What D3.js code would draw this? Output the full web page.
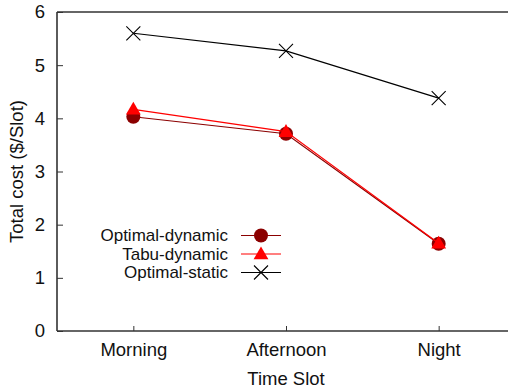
<!DOCTYPE html>
<html>
<head>
<meta charset="utf-8">
<script src="https://cdn.jsdelivr.net/npm/d3@7"></script>
<style>
    body { margin: 0; background: #fff; }
    svg text { font-family: "Liberation Sans", Arial, sans-serif; fill: #111; }
</style>
</head>
<body>
<div id="chart"></div>
<script>
// categories and series
var slots = ['Morning', 'Afternoon', 'Night'];
var optimalDynamic = [4.03, 3.71, 1.64];
var tabuDynamic = [4.17, 3.75, 1.65];
var optimalStatic = [5.60, 5.27, 4.38];
var yTicks = [0, 1, 2, 3, 4, 5, 6];

var width = 508, height = 392;
var margin = {left: 57, top: 12, right: -7, bottom: 61};
var fontSize = '18.5px';

var svg = d3.select('#chart').append('svg')
    .attr('width', width)
    .attr('height', height);

var x = d3.scalePoint()
    .domain(slots)
    .range([margin.left, width - margin.right])
    .padding(0.5);

var y = d3.scaleLinear()
    .domain([0, 6])
    .range([height - margin.bottom, margin.top]);

// y axis, ticks pointing inward
var yAxis = svg.append('g')
    .attr('transform', 'translate(' + margin.left + ',0)')
    .call(d3.axisLeft(y).tickValues(yTicks).tickFormat(d3.format('d')).tickSize(-6).tickPadding(12));
yAxis.select('.domain').remove();
yAxis.selectAll('line').style('stroke', '#333');
yAxis.selectAll('text').style('font-size', fontSize);

// x axis
var xAxis = svg.append('g')
    .attr('transform', 'translate(0,' + (height - margin.bottom) + ')')
    .call(d3.axisBottom(x).tickSize(-5).tickPadding(12));
xAxis.select('.domain').remove();
xAxis.selectAll('line').style('stroke', '#333');
xAxis.selectAll('text').style('font-size', fontSize);

// frame (no right side visible)
var frame = svg.append('g')
    .style('stroke', '#333')
    .style('stroke-width', 1.6)
    .style('fill', 'none');
frame.append('line')
    .attr('x1', margin.left).attr('x2', width)
    .attr('y1', y(6)).attr('y2', y(6));
frame.append('line')
    .attr('x1', margin.left).attr('x2', width)
    .attr('y1', y(0)).attr('y2', y(0));
frame.append('line')
    .attr('x1', margin.left).attr('x2', margin.left)
    .attr('y1', y(6)).attr('y2', y(0));

// axis titles
svg.append('text')
    .attr('x', x('Afternoon'))
    .attr('y', 385)
    .attr('text-anchor', 'middle')
    .style('font-size', fontSize)
    .text('Time Slot');
svg.append('text')
    .attr('transform', 'translate(23,' + y(3) + ') rotate(-90)')
    .attr('text-anchor', 'middle')
    .style('font-size', fontSize)
    .text('Total cost ($/Slot)');

var series = [
    {name: 'Optimal-dynamic', values: optimalDynamic, color: '#8b0000', mark: 'circle'},
    {name: 'Tabu-dynamic', values: tabuDynamic, color: '#ff0000', mark: 'triangle'},
    {name: 'Optimal-static', values: optimalStatic, color: '#000000', mark: 'cross'}
];

var line = d3.line()
    .x(function (d, i) { return x(slots[i]); })
    .y(function (d) { return y(d); });

function drawMark(g, s, cx, cy) {
    if (s.mark === 'circle') {
        g.append('circle').attr('cx', cx).attr('cy', cy).attr('r', 7)
            .style('fill', s.color);
    } else if (s.mark === 'triangle') {
        g.append('path')
            .attr('d', d3.symbol().type(d3.symbolTriangle).size(95)())
            .attr('transform', 'translate(' + cx + ',' + (cy + 1) + ')')
            .style('fill', s.color);
    } else {
        g.append('path')
            .attr('d', 'M-7,-7L7,7M-7,7L7,-7')
            .attr('transform', 'translate(' + cx + ',' + cy + ')')
            .style('stroke', s.color)
            .style('stroke-width', 1.1);
    }
}

series.forEach(function (s) {
    var g = svg.append('g');
    g.append('path')
        .datum(s.values)
        .attr('d', line)
        .style('fill', 'none')
        .style('stroke', s.color)
        .style('stroke-width', 1.2);
    s.values.forEach(function (v, i) {
        drawMark(g, s, x(slots[i]), y(v));
    });
});

// legend
var legend = svg.append('g');
series.forEach(function (s, i) {
    var ly = 235.5 + i * 18.5;
    legend.append('text')
        .attr('x', 228)
        .attr('y', ly)
        .attr('dy', '0.35em')
        .attr('text-anchor', 'end')
        .style('font-size', '17px')
        .text(s.name);
    legend.append('line')
        .attr('x1', 241).attr('x2', 281)
        .attr('y1', ly).attr('y2', ly)
        .style('stroke', s.color)
        .style('stroke-width', 1.2);
    drawMark(legend, s, 261, ly);
});
</script>
</body>
</html>
